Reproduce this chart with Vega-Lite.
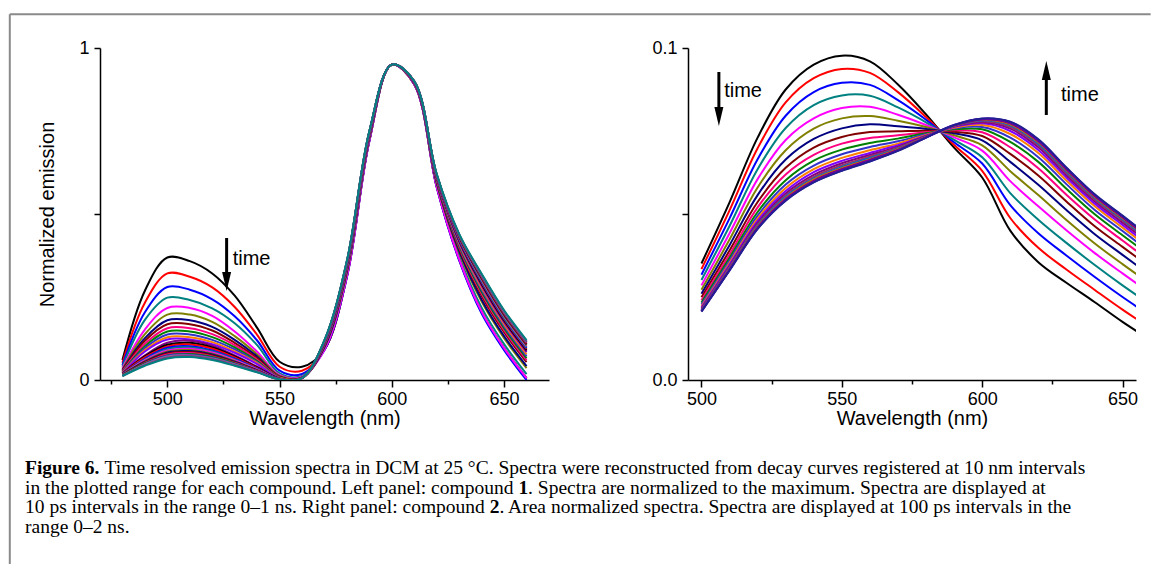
{
"$schema": "https://vega.github.io/schema/vega-lite/v6.json",
"background": "white",
"padding": {"left": 8, "top": 13, "right": 0, "bottom": 0},
"config": {
  "view": {"stroke": null},
  "font": "Liberation Sans",
  "axis": {"grid": false, "domainColor": "black", "tickColor": "black", "labelColor": "black", "titleColor": "black", "labelFont": "Liberation Sans", "titleFont": "Liberation Sans", "labelFontSize": 18, "titleFontSize": 20, "titleFontWeight": "normal", "domainWidth": 1.5, "tickWidth": 1.5, "labelOverlap": false, "labelFlush": false}
},
"datasets": {
"left": [
{"c":0,"w":480,"v":0.060},{"c":0,"w":490,"v":0.269},{"c":0,"w":500,"v":0.369},{"c":0,"w":510,"v":0.358},{"c":0,"w":520,"v":0.321},{"c":0,"w":530,"v":0.254},{"c":0,"w":540,"v":0.157},{"c":0,"w":550,"v":0.055},{"c":0,"w":560,"v":0.040},{"c":0,"w":570,"v":0.092},{"c":0,"w":580,"v":0.313},{"c":0,"w":590,"v":0.722},{"c":0,"w":600,"v":0.950},{"c":0,"w":610,"v":0.891},{"c":0,"w":620,"v":0.582},{"c":0,"w":630,"v":0.364},{"c":0,"w":640,"v":0.206},{"c":0,"w":650,"v":0.096},{"c":0,"w":660,"v":0.006},
{"c":1,"w":480,"v":0.052},{"c":1,"w":490,"v":0.233},{"c":1,"w":500,"v":0.321},{"c":1,"w":510,"v":0.311},{"c":1,"w":520,"v":0.279},{"c":1,"w":530,"v":0.220},{"c":1,"w":540,"v":0.136},{"c":1,"w":550,"v":0.040},{"c":1,"w":560,"v":0.028},{"c":1,"w":570,"v":0.091},{"c":1,"w":580,"v":0.312},{"c":1,"w":590,"v":0.721},{"c":1,"w":600,"v":0.950},{"c":1,"w":610,"v":0.890},{"c":1,"w":620,"v":0.581},{"c":1,"w":630,"v":0.362},{"c":1,"w":640,"v":0.204},{"c":1,"w":650,"v":0.094},{"c":1,"w":660,"v":0.004},
{"c":2,"w":480,"v":0.045},{"c":2,"w":490,"v":0.204},{"c":2,"w":500,"v":0.280},{"c":2,"w":510,"v":0.272},{"c":2,"w":520,"v":0.243},{"c":2,"w":530,"v":0.192},{"c":2,"w":540,"v":0.119},{"c":2,"w":550,"v":0.028},{"c":2,"w":560,"v":0.018},{"c":2,"w":570,"v":0.090},{"c":2,"w":580,"v":0.310},{"c":2,"w":590,"v":0.720},{"c":2,"w":600,"v":0.950},{"c":2,"w":610,"v":0.890},{"c":2,"w":620,"v":0.580},{"c":2,"w":630,"v":0.360},{"c":2,"w":640,"v":0.200},{"c":2,"w":650,"v":0.090},{"c":2,"w":660,"v":0.000},
{"c":3,"w":480,"v":0.040},{"c":3,"w":490,"v":0.181},{"c":3,"w":500,"v":0.248},{"c":3,"w":510,"v":0.241},{"c":3,"w":520,"v":0.216},{"c":3,"w":530,"v":0.171},{"c":3,"w":540,"v":0.105},{"c":3,"w":550,"v":0.020},{"c":3,"w":560,"v":0.012},{"c":3,"w":570,"v":0.095},{"c":3,"w":580,"v":0.318},{"c":3,"w":590,"v":0.725},{"c":3,"w":600,"v":0.950},{"c":3,"w":610,"v":0.892},{"c":3,"w":620,"v":0.586},{"c":3,"w":630,"v":0.372},{"c":3,"w":640,"v":0.218},{"c":3,"w":650,"v":0.108},{"c":3,"w":660,"v":0.018},
{"c":4,"w":480,"v":0.036},{"c":4,"w":490,"v":0.152},{"c":4,"w":500,"v":0.217},{"c":4,"w":510,"v":0.217},{"c":4,"w":520,"v":0.193},{"c":4,"w":530,"v":0.146},{"c":4,"w":540,"v":0.085},{"c":4,"w":550,"v":0.015},{"c":4,"w":560,"v":0.010},{"c":4,"w":570,"v":0.092},{"c":4,"w":580,"v":0.313},{"c":4,"w":590,"v":0.722},{"c":4,"w":600,"v":0.950},{"c":4,"w":610,"v":0.891},{"c":4,"w":620,"v":0.582},{"c":4,"w":630,"v":0.364},{"c":4,"w":640,"v":0.206},{"c":4,"w":650,"v":0.096},{"c":4,"w":660,"v":0.006},
{"c":5,"w":480,"v":0.032},{"c":5,"w":490,"v":0.138},{"c":5,"w":500,"v":0.197},{"c":5,"w":510,"v":0.197},{"c":5,"w":520,"v":0.175},{"c":5,"w":530,"v":0.132},{"c":5,"w":540,"v":0.077},{"c":5,"w":550,"v":0.012},{"c":5,"w":560,"v":0.008},{"c":5,"w":570,"v":0.099},{"c":5,"w":580,"v":0.325},{"c":5,"w":590,"v":0.729},{"c":5,"w":600,"v":0.950},{"c":5,"w":610,"v":0.893},{"c":5,"w":620,"v":0.592},{"c":5,"w":630,"v":0.384},{"c":5,"w":640,"v":0.236},{"c":5,"w":650,"v":0.126},{"c":5,"w":660,"v":0.036},
{"c":6,"w":480,"v":0.030},{"c":6,"w":490,"v":0.126},{"c":6,"w":500,"v":0.180},{"c":6,"w":510,"v":0.180},{"c":6,"w":520,"v":0.160},{"c":6,"w":530,"v":0.121},{"c":6,"w":540,"v":0.071},{"c":6,"w":550,"v":0.010},{"c":6,"w":560,"v":0.007},{"c":6,"w":570,"v":0.100},{"c":6,"w":580,"v":0.328},{"c":6,"w":590,"v":0.731},{"c":6,"w":600,"v":0.950},{"c":6,"w":610,"v":0.894},{"c":6,"w":620,"v":0.594},{"c":6,"w":630,"v":0.388},{"c":6,"w":640,"v":0.242},{"c":6,"w":650,"v":0.132},{"c":6,"w":660,"v":0.042},
{"c":7,"w":480,"v":0.028},{"c":7,"w":490,"v":0.118},{"c":7,"w":500,"v":0.168},{"c":7,"w":510,"v":0.168},{"c":7,"w":520,"v":0.149},{"c":7,"w":530,"v":0.112},{"c":7,"w":540,"v":0.066},{"c":7,"w":550,"v":0.009},{"c":7,"w":560,"v":0.007},{"c":7,"w":570,"v":0.104},{"c":7,"w":580,"v":0.333},{"c":7,"w":590,"v":0.734},{"c":7,"w":600,"v":0.950},{"c":7,"w":610,"v":0.895},{"c":7,"w":620,"v":0.598},{"c":7,"w":630,"v":0.396},{"c":7,"w":640,"v":0.254},{"c":7,"w":650,"v":0.144},{"c":7,"w":660,"v":0.054},
{"c":8,"w":480,"v":0.026},{"c":8,"w":490,"v":0.109},{"c":8,"w":500,"v":0.156},{"c":8,"w":510,"v":0.156},{"c":8,"w":520,"v":0.138},{"c":8,"w":530,"v":0.105},{"c":8,"w":540,"v":0.061},{"c":8,"w":550,"v":0.008},{"c":8,"w":560,"v":0.006},{"c":8,"w":570,"v":0.105},{"c":8,"w":580,"v":0.335},{"c":8,"w":590,"v":0.735},{"c":8,"w":600,"v":0.950},{"c":8,"w":610,"v":0.895},{"c":8,"w":620,"v":0.600},{"c":8,"w":630,"v":0.400},{"c":8,"w":640,"v":0.260},{"c":8,"w":650,"v":0.150},{"c":8,"w":660,"v":0.060},
{"c":9,"w":480,"v":0.024},{"c":9,"w":490,"v":0.102},{"c":9,"w":500,"v":0.146},{"c":9,"w":510,"v":0.146},{"c":9,"w":520,"v":0.129},{"c":9,"w":530,"v":0.098},{"c":9,"w":540,"v":0.057},{"c":9,"w":550,"v":0.007},{"c":9,"w":560,"v":0.006},{"c":9,"w":570,"v":0.107},{"c":9,"w":580,"v":0.338},{"c":9,"w":590,"v":0.737},{"c":9,"w":600,"v":0.950},{"c":9,"w":610,"v":0.896},{"c":9,"w":620,"v":0.602},{"c":9,"w":630,"v":0.404},{"c":9,"w":640,"v":0.266},{"c":9,"w":650,"v":0.156},{"c":9,"w":660,"v":0.066},
{"c":10,"w":480,"v":0.023},{"c":10,"w":490,"v":0.096},{"c":10,"w":500,"v":0.137},{"c":10,"w":510,"v":0.137},{"c":10,"w":520,"v":0.121},{"c":10,"w":530,"v":0.092},{"c":10,"w":540,"v":0.054},{"c":10,"w":550,"v":0.006},{"c":10,"w":560,"v":0.006},{"c":10,"w":570,"v":0.108},{"c":10,"w":580,"v":0.340},{"c":10,"w":590,"v":0.738},{"c":10,"w":600,"v":0.950},{"c":10,"w":610,"v":0.896},{"c":10,"w":620,"v":0.604},{"c":10,"w":630,"v":0.408},{"c":10,"w":640,"v":0.272},{"c":10,"w":650,"v":0.162},{"c":10,"w":660,"v":0.072},
{"c":11,"w":480,"v":0.021},{"c":11,"w":490,"v":0.090},{"c":11,"w":500,"v":0.129},{"c":11,"w":510,"v":0.129},{"c":11,"w":520,"v":0.114},{"c":11,"w":530,"v":0.086},{"c":11,"w":540,"v":0.051},{"c":11,"w":550,"v":0.006},{"c":11,"w":560,"v":0.006},{"c":11,"w":570,"v":0.110},{"c":11,"w":580,"v":0.343},{"c":11,"w":590,"v":0.740},{"c":11,"w":600,"v":0.950},{"c":11,"w":610,"v":0.897},{"c":11,"w":620,"v":0.606},{"c":11,"w":630,"v":0.412},{"c":11,"w":640,"v":0.278},{"c":11,"w":650,"v":0.168},{"c":11,"w":660,"v":0.078},
{"c":12,"w":480,"v":0.020},{"c":12,"w":490,"v":0.086},{"c":12,"w":500,"v":0.122},{"c":12,"w":510,"v":0.122},{"c":12,"w":520,"v":0.108},{"c":12,"w":530,"v":0.082},{"c":12,"w":540,"v":0.048},{"c":12,"w":550,"v":0.005},{"c":12,"w":560,"v":0.006},{"c":12,"w":570,"v":0.111},{"c":12,"w":580,"v":0.345},{"c":12,"w":590,"v":0.741},{"c":12,"w":600,"v":0.950},{"c":12,"w":610,"v":0.897},{"c":12,"w":620,"v":0.608},{"c":12,"w":630,"v":0.416},{"c":12,"w":640,"v":0.284},{"c":12,"w":650,"v":0.174},{"c":12,"w":660,"v":0.084},
{"c":13,"w":480,"v":0.020},{"c":13,"w":490,"v":0.074},{"c":13,"w":500,"v":0.112},{"c":13,"w":510,"v":0.118},{"c":13,"w":520,"v":0.103},{"c":13,"w":530,"v":0.074},{"c":13,"w":540,"v":0.040},{"c":13,"w":550,"v":0.004},{"c":13,"w":560,"v":0.006},{"c":13,"w":570,"v":0.112},{"c":13,"w":580,"v":0.346},{"c":13,"w":590,"v":0.742},{"c":13,"w":600,"v":0.950},{"c":13,"w":610,"v":0.897},{"c":13,"w":620,"v":0.609},{"c":13,"w":630,"v":0.418},{"c":13,"w":640,"v":0.286},{"c":13,"w":650,"v":0.176},{"c":13,"w":660,"v":0.086},
{"c":14,"w":480,"v":0.019},{"c":14,"w":490,"v":0.071},{"c":14,"w":500,"v":0.106},{"c":14,"w":510,"v":0.112},{"c":14,"w":520,"v":0.098},{"c":14,"w":530,"v":0.071},{"c":14,"w":540,"v":0.038},{"c":14,"w":550,"v":0.004},{"c":14,"w":560,"v":0.006},{"c":14,"w":570,"v":0.113},{"c":14,"w":580,"v":0.348},{"c":14,"w":590,"v":0.743},{"c":14,"w":600,"v":0.950},{"c":14,"w":610,"v":0.898},{"c":14,"w":620,"v":0.610},{"c":14,"w":630,"v":0.420},{"c":14,"w":640,"v":0.290},{"c":14,"w":650,"v":0.180},{"c":14,"w":660,"v":0.090},
{"c":15,"w":480,"v":0.019},{"c":15,"w":490,"v":0.068},{"c":15,"w":500,"v":0.101},{"c":15,"w":510,"v":0.107},{"c":15,"w":520,"v":0.094},{"c":15,"w":530,"v":0.068},{"c":15,"w":540,"v":0.036},{"c":15,"w":550,"v":0.004},{"c":15,"w":560,"v":0.006},{"c":15,"w":570,"v":0.113},{"c":15,"w":580,"v":0.349},{"c":15,"w":590,"v":0.743},{"c":15,"w":600,"v":0.950},{"c":15,"w":610,"v":0.898},{"c":15,"w":620,"v":0.611},{"c":15,"w":630,"v":0.422},{"c":15,"w":640,"v":0.294},{"c":15,"w":650,"v":0.184},{"c":15,"w":660,"v":0.094},
{"c":16,"w":480,"v":0.018},{"c":16,"w":490,"v":0.064},{"c":16,"w":500,"v":0.097},{"c":16,"w":510,"v":0.102},{"c":16,"w":520,"v":0.089},{"c":16,"w":530,"v":0.064},{"c":16,"w":540,"v":0.034},{"c":16,"w":550,"v":0.003},{"c":16,"w":560,"v":0.006},{"c":16,"w":570,"v":0.114},{"c":16,"w":580,"v":0.350},{"c":16,"w":590,"v":0.744},{"c":16,"w":600,"v":0.950},{"c":16,"w":610,"v":0.898},{"c":16,"w":620,"v":0.612},{"c":16,"w":630,"v":0.424},{"c":16,"w":640,"v":0.296},{"c":16,"w":650,"v":0.186},{"c":16,"w":660,"v":0.096},
{"c":17,"w":480,"v":0.017},{"c":17,"w":490,"v":0.062},{"c":17,"w":500,"v":0.093},{"c":17,"w":510,"v":0.098},{"c":17,"w":520,"v":0.086},{"c":17,"w":530,"v":0.062},{"c":17,"w":540,"v":0.033},{"c":17,"w":550,"v":0.003},{"c":17,"w":560,"v":0.006},{"c":17,"w":570,"v":0.115},{"c":17,"w":580,"v":0.351},{"c":17,"w":590,"v":0.745},{"c":17,"w":600,"v":0.950},{"c":17,"w":610,"v":0.898},{"c":17,"w":620,"v":0.613},{"c":17,"w":630,"v":0.426},{"c":17,"w":640,"v":0.298},{"c":17,"w":650,"v":0.188},{"c":17,"w":660,"v":0.098},
{"c":18,"w":480,"v":0.016},{"c":18,"w":490,"v":0.060},{"c":18,"w":500,"v":0.089},{"c":18,"w":510,"v":0.094},{"c":18,"w":520,"v":0.083},{"c":18,"w":530,"v":0.060},{"c":18,"w":540,"v":0.032},{"c":18,"w":550,"v":0.003},{"c":18,"w":560,"v":0.006},{"c":18,"w":570,"v":0.116},{"c":18,"w":580,"v":0.353},{"c":18,"w":590,"v":0.746},{"c":18,"w":600,"v":0.950},{"c":18,"w":610,"v":0.899},{"c":18,"w":620,"v":0.614},{"c":18,"w":630,"v":0.428},{"c":18,"w":640,"v":0.302},{"c":18,"w":650,"v":0.192},{"c":18,"w":660,"v":0.102},
{"c":19,"w":480,"v":0.016},{"c":19,"w":490,"v":0.057},{"c":19,"w":500,"v":0.086},{"c":19,"w":510,"v":0.090},{"c":19,"w":520,"v":0.079},{"c":19,"w":530,"v":0.057},{"c":19,"w":540,"v":0.030},{"c":19,"w":550,"v":0.003},{"c":19,"w":560,"v":0.006},{"c":19,"w":570,"v":0.116},{"c":19,"w":580,"v":0.354},{"c":19,"w":590,"v":0.746},{"c":19,"w":600,"v":0.950},{"c":19,"w":610,"v":0.899},{"c":19,"w":620,"v":0.615},{"c":19,"w":630,"v":0.430},{"c":19,"w":640,"v":0.304},{"c":19,"w":650,"v":0.194},{"c":19,"w":660,"v":0.104},
{"c":20,"w":480,"v":0.015},{"c":20,"w":490,"v":0.055},{"c":20,"w":500,"v":0.083},{"c":20,"w":510,"v":0.087},{"c":20,"w":520,"v":0.077},{"c":20,"w":530,"v":0.055},{"c":20,"w":540,"v":0.029},{"c":20,"w":550,"v":0.003},{"c":20,"w":560,"v":0.006},{"c":20,"w":570,"v":0.117},{"c":20,"w":580,"v":0.355},{"c":20,"w":590,"v":0.747},{"c":20,"w":600,"v":0.950},{"c":20,"w":610,"v":0.899},{"c":20,"w":620,"v":0.616},{"c":20,"w":630,"v":0.431},{"c":20,"w":640,"v":0.307},{"c":20,"w":650,"v":0.197},{"c":20,"w":660,"v":0.107},
{"c":21,"w":480,"v":0.015},{"c":21,"w":490,"v":0.053},{"c":21,"w":500,"v":0.080},{"c":21,"w":510,"v":0.084},{"c":21,"w":520,"v":0.074},{"c":21,"w":530,"v":0.053},{"c":21,"w":540,"v":0.028},{"c":21,"w":550,"v":0.002},{"c":21,"w":560,"v":0.006},{"c":21,"w":570,"v":0.117},{"c":21,"w":580,"v":0.356},{"c":21,"w":590,"v":0.747},{"c":21,"w":600,"v":0.950},{"c":21,"w":610,"v":0.899},{"c":21,"w":620,"v":0.616},{"c":21,"w":630,"v":0.433},{"c":21,"w":640,"v":0.309},{"c":21,"w":650,"v":0.199},{"c":21,"w":660,"v":0.109},
{"c":22,"w":480,"v":0.014},{"c":22,"w":490,"v":0.051},{"c":22,"w":500,"v":0.077},{"c":22,"w":510,"v":0.081},{"c":22,"w":520,"v":0.071},{"c":22,"w":530,"v":0.051},{"c":22,"w":540,"v":0.027},{"c":22,"w":550,"v":0.002},{"c":22,"w":560,"v":0.006},{"c":22,"w":570,"v":0.118},{"c":22,"w":580,"v":0.357},{"c":22,"w":590,"v":0.748},{"c":22,"w":600,"v":0.950},{"c":22,"w":610,"v":0.899},{"c":22,"w":620,"v":0.617},{"c":22,"w":630,"v":0.434},{"c":22,"w":640,"v":0.312},{"c":22,"w":650,"v":0.202},{"c":22,"w":660,"v":0.112},
{"c":23,"w":480,"v":0.014},{"c":23,"w":490,"v":0.050},{"c":23,"w":500,"v":0.074},{"c":23,"w":510,"v":0.078},{"c":23,"w":520,"v":0.069},{"c":23,"w":530,"v":0.050},{"c":23,"w":540,"v":0.026},{"c":23,"w":550,"v":0.002},{"c":23,"w":560,"v":0.006},{"c":23,"w":570,"v":0.119},{"c":23,"w":580,"v":0.358},{"c":23,"w":590,"v":0.749},{"c":23,"w":600,"v":0.950},{"c":23,"w":610,"v":0.900},{"c":23,"w":620,"v":0.618},{"c":23,"w":630,"v":0.436},{"c":23,"w":640,"v":0.314},{"c":23,"w":650,"v":0.204},{"c":23,"w":660,"v":0.114},
{"c":24,"w":480,"v":0.013},{"c":24,"w":490,"v":0.048},{"c":24,"w":500,"v":0.073},{"c":24,"w":510,"v":0.076},{"c":24,"w":520,"v":0.067},{"c":24,"w":530,"v":0.048},{"c":24,"w":540,"v":0.026},{"c":24,"w":550,"v":0.002},{"c":24,"w":560,"v":0.006},{"c":24,"w":570,"v":0.119},{"c":24,"w":580,"v":0.358},{"c":24,"w":590,"v":0.749},{"c":24,"w":600,"v":0.950},{"c":24,"w":610,"v":0.900},{"c":24,"w":620,"v":0.618},{"c":24,"w":630,"v":0.437},{"c":24,"w":640,"v":0.315},{"c":24,"w":650,"v":0.205},{"c":24,"w":660,"v":0.115},
{"c":25,"w":480,"v":0.013},{"c":25,"w":490,"v":0.047},{"c":25,"w":500,"v":0.071},{"c":25,"w":510,"v":0.074},{"c":25,"w":520,"v":0.065},{"c":25,"w":530,"v":0.047},{"c":25,"w":540,"v":0.025},{"c":25,"w":550,"v":0.002},{"c":25,"w":560,"v":0.006},{"c":25,"w":570,"v":0.119},{"c":25,"w":580,"v":0.359},{"c":25,"w":590,"v":0.749},{"c":25,"w":600,"v":0.950},{"c":25,"w":610,"v":0.900},{"c":25,"w":620,"v":0.619},{"c":25,"w":630,"v":0.438},{"c":25,"w":640,"v":0.316},{"c":25,"w":650,"v":0.206},{"c":25,"w":660,"v":0.116},
{"c":26,"w":480,"v":0.012},{"c":26,"w":490,"v":0.045},{"c":26,"w":500,"v":0.068},{"c":26,"w":510,"v":0.072},{"c":26,"w":520,"v":0.063},{"c":26,"w":530,"v":0.045},{"c":26,"w":540,"v":0.024},{"c":26,"w":550,"v":0.002},{"c":26,"w":560,"v":0.006},{"c":26,"w":570,"v":0.119},{"c":26,"w":580,"v":0.359},{"c":26,"w":590,"v":0.749},{"c":26,"w":600,"v":0.950},{"c":26,"w":610,"v":0.900},{"c":26,"w":620,"v":0.619},{"c":26,"w":630,"v":0.438},{"c":26,"w":640,"v":0.318},{"c":26,"w":650,"v":0.208},{"c":26,"w":660,"v":0.118},
{"c":27,"w":480,"v":0.012},{"c":27,"w":490,"v":0.043},{"c":27,"w":500,"v":0.065},{"c":27,"w":510,"v":0.069},{"c":27,"w":520,"v":0.060},{"c":27,"w":530,"v":0.043},{"c":27,"w":540,"v":0.023},{"c":27,"w":550,"v":0.002},{"c":27,"w":560,"v":0.006},{"c":27,"w":570,"v":0.120},{"c":27,"w":580,"v":0.360},{"c":27,"w":590,"v":0.750},{"c":27,"w":600,"v":0.950},{"c":27,"w":610,"v":0.900},{"c":27,"w":620,"v":0.620},{"c":27,"w":630,"v":0.440},{"c":27,"w":640,"v":0.320},{"c":27,"w":650,"v":0.210},{"c":27,"w":660,"v":0.120}
],
"right": [
{"c":0,"w":500,"v":0.0351},{"c":0,"w":510,"v":0.0535},{"c":0,"w":520,"v":0.0730},{"c":0,"w":530,"v":0.0875},{"c":0,"w":540,"v":0.0950},{"c":0,"w":550,"v":0.0977},{"c":0,"w":560,"v":0.0960},{"c":0,"w":570,"v":0.0890},{"c":0,"w":580,"v":0.0800},{"c":0,"w":590,"v":0.0700},{"c":0,"w":600,"v":0.0610},{"c":0,"w":610,"v":0.0450},{"c":0,"w":620,"v":0.0355},{"c":0,"w":630,"v":0.0293},{"c":0,"w":640,"v":0.0235},{"c":0,"w":650,"v":0.0175},{"c":0,"w":660,"v":0.0120},
{"c":1,"w":500,"v":0.0334},{"c":1,"w":510,"v":0.0511},{"c":1,"w":520,"v":0.0698},{"c":1,"w":530,"v":0.0836},{"c":1,"w":540,"v":0.0909},{"c":1,"w":550,"v":0.0937},{"c":1,"w":560,"v":0.0925},{"c":1,"w":570,"v":0.0867},{"c":1,"w":580,"v":0.0792},{"c":1,"w":590,"v":0.0708},{"c":1,"w":600,"v":0.0630},{"c":1,"w":610,"v":0.0488},{"c":1,"w":620,"v":0.0398},{"c":1,"w":630,"v":0.0333},{"c":1,"w":640,"v":0.0272},{"c":1,"w":650,"v":0.0212},{"c":1,"w":660,"v":0.0156},
{"c":2,"w":500,"v":0.0317},{"c":2,"w":510,"v":0.0487},{"c":2,"w":520,"v":0.0665},{"c":2,"w":530,"v":0.0796},{"c":2,"w":540,"v":0.0867},{"c":2,"w":550,"v":0.0895},{"c":2,"w":560,"v":0.0889},{"c":2,"w":570,"v":0.0843},{"c":2,"w":580,"v":0.0784},{"c":2,"w":590,"v":0.0716},{"c":2,"w":600,"v":0.0652},{"c":2,"w":610,"v":0.0527},{"c":2,"w":620,"v":0.0442},{"c":2,"w":630,"v":0.0375},{"c":2,"w":640,"v":0.0311},{"c":2,"w":650,"v":0.0250},{"c":2,"w":660,"v":0.0193},
{"c":3,"w":500,"v":0.0301},{"c":3,"w":510,"v":0.0464},{"c":3,"w":520,"v":0.0635},{"c":3,"w":530,"v":0.0759},{"c":3,"w":540,"v":0.0828},{"c":3,"w":550,"v":0.0857},{"c":3,"w":560,"v":0.0856},{"c":3,"w":570,"v":0.0821},{"c":3,"w":580,"v":0.0776},{"c":3,"w":590,"v":0.0723},{"c":3,"w":600,"v":0.0671},{"c":3,"w":610,"v":0.0563},{"c":3,"w":620,"v":0.0483},{"c":3,"w":630,"v":0.0413},{"c":3,"w":640,"v":0.0347},{"c":3,"w":650,"v":0.0285},{"c":3,"w":660,"v":0.0227},
{"c":4,"w":500,"v":0.0285},{"c":4,"w":510,"v":0.0442},{"c":4,"w":520,"v":0.0605},{"c":4,"w":530,"v":0.0723},{"c":4,"w":540,"v":0.0788},{"c":4,"w":550,"v":0.0819},{"c":4,"w":560,"v":0.0823},{"c":4,"w":570,"v":0.0799},{"c":4,"w":580,"v":0.0768},{"c":4,"w":590,"v":0.0731},{"c":4,"w":600,"v":0.0691},{"c":4,"w":610,"v":0.0599},{"c":4,"w":620,"v":0.0523},{"c":4,"w":630,"v":0.0451},{"c":4,"w":640,"v":0.0383},{"c":4,"w":650,"v":0.0321},{"c":4,"w":660,"v":0.0261},
{"c":5,"w":500,"v":0.0272},{"c":5,"w":510,"v":0.0423},{"c":5,"w":520,"v":0.0580},{"c":5,"w":530,"v":0.0692},{"c":5,"w":540,"v":0.0757},{"c":5,"w":550,"v":0.0788},{"c":5,"w":560,"v":0.0795},{"c":5,"w":570,"v":0.0781},{"c":5,"w":580,"v":0.0762},{"c":5,"w":590,"v":0.0737},{"c":5,"w":600,"v":0.0707},{"c":5,"w":610,"v":0.0629},{"c":5,"w":620,"v":0.0557},{"c":5,"w":630,"v":0.0482},{"c":5,"w":640,"v":0.0412},{"c":5,"w":650,"v":0.0349},{"c":5,"w":660,"v":0.0289},
{"c":6,"w":500,"v":0.0260},{"c":6,"w":510,"v":0.0406},{"c":6,"w":520,"v":0.0557},{"c":6,"w":530,"v":0.0664},{"c":6,"w":540,"v":0.0726},{"c":6,"w":550,"v":0.0758},{"c":6,"w":560,"v":0.0770},{"c":6,"w":570,"v":0.0764},{"c":6,"w":580,"v":0.0756},{"c":6,"w":590,"v":0.0743},{"c":6,"w":600,"v":0.0722},{"c":6,"w":610,"v":0.0657},{"c":6,"w":620,"v":0.0588},{"c":6,"w":630,"v":0.0512},{"c":6,"w":640,"v":0.0440},{"c":6,"w":650,"v":0.0377},{"c":6,"w":660,"v":0.0315},
{"c":7,"w":500,"v":0.0249},{"c":7,"w":510,"v":0.0390},{"c":7,"w":520,"v":0.0536},{"c":7,"w":530,"v":0.0639},{"c":7,"w":540,"v":0.0700},{"c":7,"w":550,"v":0.0732},{"c":7,"w":560,"v":0.0747},{"c":7,"w":570,"v":0.0749},{"c":7,"w":580,"v":0.0751},{"c":7,"w":590,"v":0.0748},{"c":7,"w":600,"v":0.0735},{"c":7,"w":610,"v":0.0681},{"c":7,"w":620,"v":0.0616},{"c":7,"w":630,"v":0.0538},{"c":7,"w":640,"v":0.0464},{"c":7,"w":650,"v":0.0401},{"c":7,"w":660,"v":0.0339},
{"c":8,"w":500,"v":0.0240},{"c":8,"w":510,"v":0.0378},{"c":8,"w":520,"v":0.0520},{"c":8,"w":530,"v":0.0619},{"c":8,"w":540,"v":0.0678},{"c":8,"w":550,"v":0.0712},{"c":8,"w":560,"v":0.0729},{"c":8,"w":570,"v":0.0737},{"c":8,"w":580,"v":0.0746},{"c":8,"w":590,"v":0.0752},{"c":8,"w":600,"v":0.0746},{"c":8,"w":610,"v":0.0701},{"c":8,"w":620,"v":0.0638},{"c":8,"w":630,"v":0.0558},{"c":8,"w":640,"v":0.0484},{"c":8,"w":650,"v":0.0420},{"c":8,"w":660,"v":0.0357},
{"c":9,"w":500,"v":0.0233},{"c":9,"w":510,"v":0.0368},{"c":9,"w":520,"v":0.0506},{"c":9,"w":530,"v":0.0602},{"c":9,"w":540,"v":0.0661},{"c":9,"w":550,"v":0.0694},{"c":9,"w":560,"v":0.0714},{"c":9,"w":570,"v":0.0727},{"c":9,"w":580,"v":0.0743},{"c":9,"w":590,"v":0.0755},{"c":9,"w":600,"v":0.0755},{"c":9,"w":610,"v":0.0717},{"c":9,"w":620,"v":0.0657},{"c":9,"w":630,"v":0.0576},{"c":9,"w":640,"v":0.0500},{"c":9,"w":650,"v":0.0436},{"c":9,"w":660,"v":0.0373},
{"c":10,"w":500,"v":0.0227},{"c":10,"w":510,"v":0.0360},{"c":10,"w":520,"v":0.0495},{"c":10,"w":530,"v":0.0589},{"c":10,"w":540,"v":0.0646},{"c":10,"w":550,"v":0.0680},{"c":10,"w":560,"v":0.0702},{"c":10,"w":570,"v":0.0719},{"c":10,"w":580,"v":0.0740},{"c":10,"w":590,"v":0.0758},{"c":10,"w":600,"v":0.0762},{"c":10,"w":610,"v":0.0730},{"c":10,"w":620,"v":0.0671},{"c":10,"w":630,"v":0.0590},{"c":10,"w":640,"v":0.0513},{"c":10,"w":650,"v":0.0449},{"c":10,"w":660,"v":0.0385},
{"c":11,"w":500,"v":0.0222},{"c":11,"w":510,"v":0.0353},{"c":11,"w":520,"v":0.0486},{"c":11,"w":530,"v":0.0578},{"c":11,"w":540,"v":0.0635},{"c":11,"w":550,"v":0.0669},{"c":11,"w":560,"v":0.0692},{"c":11,"w":570,"v":0.0712},{"c":11,"w":580,"v":0.0738},{"c":11,"w":590,"v":0.0760},{"c":11,"w":600,"v":0.0768},{"c":11,"w":610,"v":0.0741},{"c":11,"w":620,"v":0.0684},{"c":11,"w":630,"v":0.0601},{"c":11,"w":640,"v":0.0524},{"c":11,"w":650,"v":0.0459},{"c":11,"w":660,"v":0.0395},
{"c":12,"w":500,"v":0.0218},{"c":12,"w":510,"v":0.0348},{"c":12,"w":520,"v":0.0479},{"c":12,"w":530,"v":0.0569},{"c":12,"w":540,"v":0.0626},{"c":12,"w":550,"v":0.0660},{"c":12,"w":560,"v":0.0684},{"c":12,"w":570,"v":0.0707},{"c":12,"w":580,"v":0.0736},{"c":12,"w":590,"v":0.0762},{"c":12,"w":600,"v":0.0773},{"c":12,"w":610,"v":0.0750},{"c":12,"w":620,"v":0.0693},{"c":12,"w":630,"v":0.0610},{"c":12,"w":640,"v":0.0532},{"c":12,"w":650,"v":0.0467},{"c":12,"w":660,"v":0.0403},
{"c":13,"w":500,"v":0.0215},{"c":13,"w":510,"v":0.0343},{"c":13,"w":520,"v":0.0473},{"c":13,"w":530,"v":0.0562},{"c":13,"w":540,"v":0.0618},{"c":13,"w":550,"v":0.0653},{"c":13,"w":560,"v":0.0678},{"c":13,"w":570,"v":0.0703},{"c":13,"w":580,"v":0.0735},{"c":13,"w":590,"v":0.0764},{"c":13,"w":600,"v":0.0776},{"c":13,"w":610,"v":0.0757},{"c":13,"w":620,"v":0.0701},{"c":13,"w":630,"v":0.0617},{"c":13,"w":640,"v":0.0539},{"c":13,"w":650,"v":0.0474},{"c":13,"w":660,"v":0.0410},
{"c":14,"w":500,"v":0.0213},{"c":14,"w":510,"v":0.0340},{"c":14,"w":520,"v":0.0468},{"c":14,"w":530,"v":0.0556},{"c":14,"w":540,"v":0.0612},{"c":14,"w":550,"v":0.0647},{"c":14,"w":560,"v":0.0673},{"c":14,"w":570,"v":0.0700},{"c":14,"w":580,"v":0.0733},{"c":14,"w":590,"v":0.0765},{"c":14,"w":600,"v":0.0779},{"c":14,"w":610,"v":0.0762},{"c":14,"w":620,"v":0.0707},{"c":14,"w":630,"v":0.0623},{"c":14,"w":640,"v":0.0544},{"c":14,"w":650,"v":0.0480},{"c":14,"w":660,"v":0.0415},
{"c":15,"w":500,"v":0.0211},{"c":15,"w":510,"v":0.0337},{"c":15,"w":520,"v":0.0465},{"c":15,"w":530,"v":0.0552},{"c":15,"w":540,"v":0.0607},{"c":15,"w":550,"v":0.0642},{"c":15,"w":560,"v":0.0669},{"c":15,"w":570,"v":0.0697},{"c":15,"w":580,"v":0.0732},{"c":15,"w":590,"v":0.0766},{"c":15,"w":600,"v":0.0782},{"c":15,"w":610,"v":0.0767},{"c":15,"w":620,"v":0.0712},{"c":15,"w":630,"v":0.0628},{"c":15,"w":640,"v":0.0549},{"c":15,"w":650,"v":0.0484},{"c":15,"w":660,"v":0.0419},
{"c":16,"w":500,"v":0.0209},{"c":16,"w":510,"v":0.0335},{"c":16,"w":520,"v":0.0462},{"c":16,"w":530,"v":0.0548},{"c":16,"w":540,"v":0.0604},{"c":16,"w":550,"v":0.0638},{"c":16,"w":560,"v":0.0665},{"c":16,"w":570,"v":0.0695},{"c":16,"w":580,"v":0.0732},{"c":16,"w":590,"v":0.0766},{"c":16,"w":600,"v":0.0784},{"c":16,"w":610,"v":0.0770},{"c":16,"w":620,"v":0.0716},{"c":16,"w":630,"v":0.0632},{"c":16,"w":640,"v":0.0552},{"c":16,"w":650,"v":0.0487},{"c":16,"w":660,"v":0.0423},
{"c":17,"w":500,"v":0.0208},{"c":17,"w":510,"v":0.0333},{"c":17,"w":520,"v":0.0459},{"c":17,"w":530,"v":0.0545},{"c":17,"w":540,"v":0.0600},{"c":17,"w":550,"v":0.0635},{"c":17,"w":560,"v":0.0663},{"c":17,"w":570,"v":0.0693},{"c":17,"w":580,"v":0.0731},{"c":17,"w":590,"v":0.0767},{"c":17,"w":600,"v":0.0785},{"c":17,"w":610,"v":0.0773},{"c":17,"w":620,"v":0.0719},{"c":17,"w":630,"v":0.0635},{"c":17,"w":640,"v":0.0555},{"c":17,"w":650,"v":0.0490},{"c":17,"w":660,"v":0.0425},
{"c":18,"w":500,"v":0.0207},{"c":18,"w":510,"v":0.0332},{"c":18,"w":520,"v":0.0457},{"c":18,"w":530,"v":0.0543},{"c":18,"w":540,"v":0.0598},{"c":18,"w":550,"v":0.0633},{"c":18,"w":560,"v":0.0661},{"c":18,"w":570,"v":0.0692},{"c":18,"w":580,"v":0.0731},{"c":18,"w":590,"v":0.0767},{"c":18,"w":600,"v":0.0786},{"c":18,"w":610,"v":0.0775},{"c":18,"w":620,"v":0.0722},{"c":18,"w":630,"v":0.0637},{"c":18,"w":640,"v":0.0557},{"c":18,"w":650,"v":0.0492},{"c":18,"w":660,"v":0.0427},
{"c":19,"w":500,"v":0.0207},{"c":19,"w":510,"v":0.0331},{"c":19,"w":520,"v":0.0456},{"c":19,"w":530,"v":0.0541},{"c":19,"w":540,"v":0.0596},{"c":19,"w":550,"v":0.0631},{"c":19,"w":560,"v":0.0659},{"c":19,"w":570,"v":0.0691},{"c":19,"w":580,"v":0.0730},{"c":19,"w":590,"v":0.0768},{"c":19,"w":600,"v":0.0787},{"c":19,"w":610,"v":0.0777},{"c":19,"w":620,"v":0.0724},{"c":19,"w":630,"v":0.0639},{"c":19,"w":640,"v":0.0559},{"c":19,"w":650,"v":0.0494},{"c":19,"w":660,"v":0.0429},
{"c":20,"w":500,"v":0.0206},{"c":20,"w":510,"v":0.0330},{"c":20,"w":520,"v":0.0455},{"c":20,"w":530,"v":0.0540},{"c":20,"w":540,"v":0.0595},{"c":20,"w":550,"v":0.0630},{"c":20,"w":560,"v":0.0658},{"c":20,"w":570,"v":0.0690},{"c":20,"w":580,"v":0.0730},{"c":20,"w":590,"v":0.0768},{"c":20,"w":600,"v":0.0788},{"c":20,"w":610,"v":0.0778},{"c":20,"w":620,"v":0.0725},{"c":20,"w":630,"v":0.0640},{"c":20,"w":640,"v":0.0560},{"c":20,"w":650,"v":0.0495},{"c":20,"w":660,"v":0.0430}
],
"caption": [
{"line":1,"part":"head","text":"Figure 6."},
{"line":1,"part":"l1","text":"Time resolved emission spectra in DCM at 25 °C. Spectra were reconstructed from decay curves registered at 10 nm intervals"},
{"line":2,"part":"a","text":"in the plotted range for each compound. Left panel: compound"},
{"line":2,"part":"n","text":"1"},
{"line":2,"part":"b","text":". Spectra are normalized to the maximum. Spectra are displayed at"},
{"line":3,"part":"a","text":"10 ps intervals in the range 0–1 ns. Right panel: compound"},
{"line":3,"part":"n","text":"2"},
{"line":3,"part":"b","text":". Area normalized spectra. Spectra are displayed at 100 ps intervals in the"},
{"line":4,"part":"a","text":"range 0–2 ns."}
]
},
"bounds": "flush",
"columns": 2,
"spacing": {"row": 78.25, "column": 139},
"resolve": {"scale": {"x": "independent", "y": "independent", "color": "independent"}},
"concat": [
  {
    "width": 449, "height": 332,
    "layer": [
      {"data": {"values": [{}]}, "mark": {"type": "rule", "color": "#8a8a8a", "strokeWidth": 2},
       "encoding": {"x": {"datum": 429.82, "type": "quantitative"}, "x2": {"datum": 938.0}, "y": {"datum": 1.1018, "type": "quantitative"}}},
      {"data": {"values": [{}]}, "mark": {"type": "rule", "color": "#8a8a8a", "strokeWidth": 2},
       "encoding": {"x": {"datum": 429.82, "type": "quantitative"}, "y": {"datum": 1.1018, "type": "quantitative"}, "y2": {"datum": -0.5542}}},
      {"data": {"name": "left"},
       "mark": {"type": "line", "interpolate": "catmull-rom", "strokeWidth": 2, "clip": true},
       "encoding": {
         "x": {"field": "w", "type": "quantitative", "scale": {"domain": [470, 670], "nice": false, "zero": false},
               "axis": {"values": [475, 500, 525, 550, 575, 600, 625, 650], "labelExpr": "datum.value % 50 === 0 ? datum.label : ''",
                        "tickSize": {"condition": {"test": "datum.value % 50 === 0", "value": 7}, "value": 4},
                        "labelPadding": 3, "title": "Wavelength (nm)", "titleY": 44, "titleBaseline": "alphabetic"}},
         "y": {"field": "v", "type": "quantitative", "scale": {"domain": [0, 1], "nice": false},
               "axis": {"values": [0, 0.5, 1], "labelExpr": "datum.value === 0 ? '0' : datum.value === 1 ? '1' : ''",
                        "tickSize": 6, "labelPadding": 5, "title": "Normalized emission", "titleX": -53, "titleY": 166,
                        "titleBaseline": "middle", "titleAngle": -90, "titleAlign": "center"}},
         "color": {"field": "c", "type": "nominal", "legend": null,
                   "scale": {"domain": [0,1,2,3,4,5,6,7,8,9,10,11,12,13,14,15,16,17,18,19,20,21,22,23,24,25,26,27],
                             "range": ["#000000","#FF0000","#0000FF","#008080","#FF00FF","#808000","#000080","#800000","#FF0080","#008000","#3333CC","#FF8000","#8000FF","#800080","#000000","#FF0000","#0000FF","#008080","#FF00FF","#808000","#000080","#800000","#FF0080","#008000","#3333CC","#996699","#804080","#008080"]}}
       }},
      {"data": {"values": [{}]}, "mark": {"type": "rule", "color": "black", "strokeWidth": 3},
       "encoding": {"x": {"datum": 526.4, "type": "quantitative"}, "y": {"datum": 0.4277, "type": "quantitative"}, "y2": {"datum": 0.3253}}},
      {"data": {"values": [{}]}, "mark": {"type": "point", "shape": "M-0.45,-0.95L0.45,-0.95L0,0.95Z", "size": 400, "filled": true, "color": "black", "opacity": 1, "strokeWidth": 0},
       "encoding": {"x": {"datum": 526.4, "type": "quantitative"}, "y": {"datum": 0.2967, "type": "quantitative"}}},
      {"data": {"values": [{}]}, "mark": {"type": "text", "text": "time", "align": "left", "baseline": "middle", "fontSize": 20, "font": "Liberation Sans", "color": "black"},
       "encoding": {"x": {"datum": 529.1, "type": "quantitative"}, "y": {"datum": 0.3645, "type": "quantitative"}}}
    ]
  },
  {
    "width": 448, "height": 332,
    "layer": [
      {"data": {"name": "right"},
       "mark": {"type": "line", "interpolate": "catmull-rom", "strokeWidth": 2, "clip": true},
       "encoding": {
         "x": {"field": "w", "type": "quantitative", "scale": {"domain": [495.2, 654.8], "nice": false, "zero": false},
               "axis": {"values": [500, 525, 550, 575, 600, 625, 650], "labelExpr": "datum.value % 50 === 0 ? datum.label : ''",
                        "tickSize": {"condition": {"test": "datum.value % 50 === 0", "value": 7}, "value": 4},
                        "labelPadding": 3, "title": "Wavelength (nm)", "titleY": 44, "titleBaseline": "alphabetic"}},
         "y": {"field": "v", "type": "quantitative", "scale": {"domain": [0, 0.1], "nice": false},
               "axis": {"values": [0, 0.05, 0.1], "labelExpr": "datum.value === 0 ? '0.0' : datum.value === 0.1 ? '0.1' : ''",
                        "tickSize": 6, "labelPadding": 5, "title": null}},
         "color": {"field": "c", "type": "nominal", "legend": null,
                   "scale": {"domain": [0,1,2,3,4,5,6,7,8,9,10,11,12,13,14,15,16,17,18,19,20],
                             "range": ["#000000","#FF0000","#0000FF","#008080","#FF00FF","#808000","#000080","#800000","#FF0080","#008000","#3333CC","#FF8000","#8000FF","#800080","#993366","#0066CC","#CC6600","#660099","#800080","#6600CC","#20208F"]}}
       }},
      {"data": {"values": [{}]}, "mark": {"type": "rule", "color": "black", "strokeWidth": 3},
       "encoding": {"x": {"datum": 506.2, "type": "quantitative"}, "y": {"datum": 0.09277, "type": "quantitative"}, "y2": {"datum": 0.08223}}},
      {"data": {"values": [{}]}, "mark": {"type": "point", "shape": "M-0.45,-0.95L0.45,-0.95L0,0.95Z", "size": 400, "filled": true, "color": "black", "opacity": 1, "strokeWidth": 0},
       "encoding": {"x": {"datum": 506.2, "type": "quantitative"}, "y": {"datum": 0.07937, "type": "quantitative"}}},
      {"data": {"values": [{}]}, "mark": {"type": "text", "text": "time", "align": "left", "baseline": "middle", "fontSize": 20, "font": "Liberation Sans", "color": "black"},
       "encoding": {"x": {"datum": 508.1, "type": "quantitative"}, "y": {"datum": 0.08714, "type": "quantitative"}}},
      {"data": {"values": [{}]}, "mark": {"type": "rule", "color": "black", "strokeWidth": 3},
       "encoding": {"x": {"datum": 622.85, "type": "quantitative"}, "y": {"datum": 0.09036, "type": "quantitative"}, "y2": {"datum": 0.07982}}},
      {"data": {"values": [{}]}, "mark": {"type": "point", "shape": "M-0.45,0.95L0.45,0.95L0,-0.95Z", "size": 400, "filled": true, "color": "black", "opacity": 1, "strokeWidth": 0},
       "encoding": {"x": {"datum": 622.85, "type": "quantitative"}, "y": {"datum": 0.09322, "type": "quantitative"}}},
      {"data": {"values": [{}]}, "mark": {"type": "text", "text": "time", "align": "left", "baseline": "middle", "fontSize": 20, "font": "Liberation Sans", "color": "black"},
       "encoding": {"x": {"datum": 628.1, "type": "quantitative"}, "y": {"datum": 0.08584, "type": "quantitative"}}}
    ]
  },
  {
    "width": 449, "height": 78,
    "data": {"name": "caption"},
    "encoding": {
      "x": {"datum": 0, "type": "quantitative", "scale": {"domain": [0, 1]}, "axis": null},
      "y": {"field": "line", "type": "ordinal", "scale": {"domain": [1, 2, 3, 4]}, "axis": null},
      "text": {"field": "text"}
    },
    "layer": [
      {"transform": [{"filter": "datum.part === 'head'"}],
       "mark": {"type": "text", "align": "left", "baseline": "middle", "font": "Liberation Serif", "fontSize": 19.5, "fontWeight": "bold", "color": "black", "dx": -75}},
      {"transform": [{"filter": "datum.part === 'l1'"}],
       "mark": {"type": "text", "align": "left", "baseline": "middle", "font": "Liberation Serif", "fontSize": 19.5, "color": "black", "dx": 4.6}},
      {"transform": [{"filter": "datum.part === 'a'"}],
       "mark": {"type": "text", "align": "left", "baseline": "middle", "font": "Liberation Serif", "fontSize": 19.5, "color": "black", "dx": -75}},
      {"transform": [{"filter": "datum.part === 'n' && datum.line === 2"}],
       "mark": {"type": "text", "align": "left", "baseline": "middle", "font": "Liberation Serif", "fontSize": 19.5, "fontWeight": "bold", "color": "black", "dx": 418.4}},
      {"transform": [{"filter": "datum.part === 'b' && datum.line === 2"}],
       "mark": {"type": "text", "align": "left", "baseline": "middle", "font": "Liberation Serif", "fontSize": 19.5, "color": "black", "dx": 428.1}},
      {"transform": [{"filter": "datum.part === 'n' && datum.line === 3"}],
       "mark": {"type": "text", "align": "left", "baseline": "middle", "font": "Liberation Serif", "fontSize": 19.5, "fontWeight": "bold", "color": "black", "dx": 389.7}},
      {"transform": [{"filter": "datum.part === 'b' && datum.line === 3"}],
       "mark": {"type": "text", "align": "left", "baseline": "middle", "font": "Liberation Serif", "fontSize": 19.5, "color": "black", "dx": 399.45}}
    ]
  }
]
}
